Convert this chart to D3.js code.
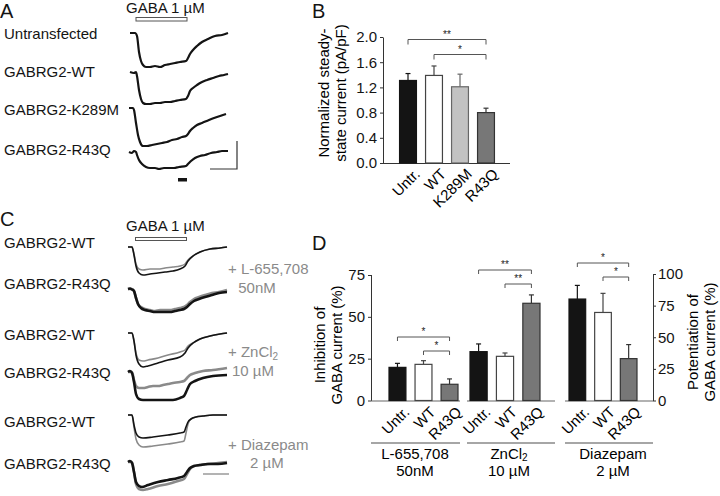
<!DOCTYPE html>
<html><head><meta charset="utf-8">
<script src="https://cdn.jsdelivr.net/npm/d3@7"></script>
<style>body{margin:0;background:#fff}svg{display:block}text{font-family:"Liberation Sans",Arial,sans-serif}</style>
</head><body>
<svg id="fig" width="720" height="496"></svg>
<script>
// ---------- DATA ----------
// Panel A traces: [time (a.u.), current (a.u., negative = inward)]
const aRowLabels = ["Untransfected","GABRG2-WT","GABRG2-K289M","GABRG2-R43Q"];
const aUntransfected = [[1,0],[6,0],[8,-3],[10,-19],[12,-28],[14,-32],[17,-34],[21,-34],[26,-33],[31,-34],[36,-32],[41,-31],[46,-30],[51,-29],[57,-28],[59,-25],[61,-21],[64,-17],[68,-13],[73,-9],[79,-6],[86,-3],[93,-2],[99,0]];
const aWT = [[1,0],[5,-1],[7,0],[8,-4],[10,-18],[12,-27],[14,-31],[17,-32],[21,-32],[26,-31],[31,-31],[36,-30],[41,-30],[46,-29],[51,-28],[57,-27],[59,-24],[61,-19],[64,-16],[68,-13],[73,-10],[78,-8],[84,-6],[90,-4],[95,-3],[99,-2]];
const aK289M = [[0,0],[4,0],[5,-2],[7,-15],[9,-27],[11,-34],[14,-38],[18,-38],[23,-37],[28,-36],[33,-35],[38,-34],[43,-32],[48,-31],[53,-29],[57,-28],[59,-26],[61,-23],[64,-20],[68,-17],[73,-15],[80,-12],[88,-9],[97,-6]];
const aR43Q = [[0,0],[3,-1],[5,1],[7,0],[8,-3],[10,-8],[13,-12],[17,-15],[21,-16],[26,-16],[30,-17],[35,-16],[40,-16],[45,-16],[50,-15],[57,-14],[59,-12],[62,-9],[66,-6],[71,-4],[76,-3],[82,-1],[88,0],[93,1],[99,1]];
const aTraces = [aUntransfected, aWT, aK289M, aR43Q];

// Panel C traces (black = control, gray = + drug)
const cRowLabels = ["GABRG2-WT","GABRG2-R43Q","GABRG2-WT","GABRG2-R43Q","GABRG2-WT","GABRG2-R43Q"];
const cWT_L_black = [[0,0],[4,0],[6,-8],[8,-19],[11,-26],[15,-28],[22,-27],[30,-26],[37,-25],[45,-24],[52,-22],[57,-19],[60,-14],[65,-9],[72,-5],[82,-2],[92,-1],[99,0]];
const cWT_L_gray  = [[0,0],[4,0],[6,-7],[8,-17],[11,-22],[15,-23],[22,-22],[30,-22],[37,-21],[45,-20],[52,-19],[57,-17],[60,-13],[65,-9],[72,-5],[82,-2],[92,-1],[99,0]];
const cR43Q_L_black = [[0,0],[2,0.5],[4,-0.5],[6,-2],[8,-9],[10,-15],[13,-19],[17,-21],[22,-22],[27,-23],[32,-23],[37,-23],[42,-23],[47,-22],[52,-21],[56,-20],[59,-18],[62,-15],[66,-12],[71,-10],[77,-8],[84,-6],[91,-4],[99,-3]];
const cR43Q_L_gray  = [[0,0],[4,0],[6,-2],[8,-9],[10,-15],[13,-18],[17,-20],[22,-21],[27,-22],[32,-21],[37,-21],[42,-21],[47,-20],[52,-19],[56,-18],[59,-16],[62,-13],[66,-10],[71,-8],[77,-6],[84,-4],[91,-3],[99,-1]];
const cWT_Zn_black = [[0,0],[4,0],[6,-8],[8,-22],[11,-31],[15,-34],[20,-33],[30,-30],[40,-27],[52,-24],[57,-20],[60,-15],[65,-10],[72,-6],[82,-3],[92,-1],[99,0]];
const cWT_Zn_gray  = [[0,0],[4,0],[6,-8],[8,-20],[11,-27],[15,-28],[20,-27],[30,-25],[40,-22],[52,-19],[57,-17],[60,-13],[65,-10],[72,-6],[82,-3],[92,-1],[99,0]];
const cR43Q_Zn_black = [[0,0],[2,1],[4,-1],[6,-10],[8,-22],[11,-27],[15,-28],[25,-28],[35,-28],[45,-28],[52,-26],[56,-24],[59,-18],[62,-12],[67,-9],[75,-6],[85,-4],[99,-3]];
const cR43Q_Zn_gray  = [[0,0],[4,0],[6,-8],[8,-14],[11,-16],[15,-16],[20,-15],[25,-14],[30,-14],[35,-13],[40,-12],[45,-11],[52,-10],[56,-9],[59,-6],[62,-3],[67,-1],[75,1],[85,2],[99,4]];
const cWT_Dz_black = [[0,0],[4,0],[6,-10],[8,-18],[11,-22],[15,-23],[25,-22],[40,-20],[52,-18],[56,-17],[58,-12],[60,-7],[63,-4],[68,-2],[75,-1],[85,0],[99,0]];
const cWT_Dz_gray  = [[0,0],[4,0],[6,-12],[8,-24],[11,-30],[15,-32],[25,-31],[40,-29],[52,-27],[56,-26],[58,-18],[60,-9],[63,-4],[68,-2],[75,-1],[85,0],[99,0]];
const cR43Q_Dz_black = [[0,0],[2,1],[4,-1],[6,-10],[8,-20],[11,-24],[14,-25],[20,-23],[30,-20],[40,-18],[50,-16],[56,-14],[59,-10],[62,-6],[66,-4],[72,-3],[80,-2],[90,-2],[99,-1]];
const cR43Q_Dz_gray  = [[0,0],[4,0],[6,-10],[8,-22],[11,-27],[15,-28],[20,-27],[30,-24],[40,-22],[50,-19],[56,-17],[59,-12],[62,-7],[66,-4],[72,-3],[80,-2],[90,-1],[99,0]];
const cTraces = [
  [cWT_L_gray, cWT_L_black],[cR43Q_L_gray, cR43Q_L_black],
  [cWT_Zn_gray, cWT_Zn_black],[cR43Q_Zn_gray, cR43Q_Zn_black],
  [cWT_Dz_gray, cWT_Dz_black],[cR43Q_Dz_gray, cR43Q_Dz_black]];
const gabaWindow = [8, 58];

// Panel B
const bCategories = ["Untr.","WT","K289M","R43Q"];
const bMeans = [1.31, 1.39, 1.21, 0.80];
const bErrors = [0.11, 0.15, 0.20, 0.07];
const bTicks = [0, 0.4, 0.8, 1.2, 1.6, 2.0];

// Panel D
const dCategories = ["Untr.","WT","R43Q"];
const dGroups = ["L-655,708","ZnCl2","Diazepam"];
const dGroupSub = ["50nM","10 µM","2 µM"];
const dMeansL = [19.8, 21.6, 9.7];
const dErrL = [2.4, 2.2, 3.2];
const dMeansZn = [29.2, 26.4, 58.1];
const dErrZn = [4.6, 2.0, 5.0];
const dMeansDz = [80.2, 69.6, 33.1];
const dErrDz = [10.8, 15.1, 11.1];
const dLeftTicks = [0, 25, 50, 75];
const dRightTicks = [0, 25, 50, 75, 100];

// ---------- DRAW ----------
const svg = d3.select("#fig");
const BLACK = "#141414", GRAY = "#8a8a8a";
const fills = {"Untr.":"#141414","WT":"#ffffff","K289M":"#c2c2c2","R43Q":"#777777"};
const strokes = {"Untr.":"#141414","WT":"#444","K289M":"#666","R43Q":"#333"};
const FS = 15;
const FONT = '"Liberation Sans",Arial,sans-serif';

function label(x, y, t, opts={}) {
  const el = svg.append("text").attr("x", x).attr("y", y).text(t)
    .attr("font-size", opts.size || FS).attr("fill", opts.fill || BLACK);
  if (opts.anchor) el.attr("text-anchor", opts.anchor);
  return el;
}
// panel letters
label(0, 18, "A", {size: 20});
label(312, 18, "B", {size: 20});
label(0, 226, "C", {size: 20});
label(312, 250, "D", {size: 20});

// ---- Panel A ----
const xA = d3.scaleLinear().domain([0, 100]).range([129, 229]);
const aBase = [33, 72, 108, 152];
const yAmp = d3.scaleLinear().domain([0, -40]).range([0, 40]);
label(126, 13, "GABA 1 µM", {size: 15});
svg.append("rect").attr("x", xA(gabaWindow[0])-1).attr("y", 17.5).attr("width", xA(gabaWindow[1]) - xA(gabaWindow[0])+1).attr("height", 3.5)
  .attr("fill", "#fff").attr("stroke", "#555").attr("stroke-width", 1);
const aLabY = [39, 77, 115, 155];
aRowLabels.forEach((t, i) => label(4, aLabY[i], t));
aTraces.forEach((tr, i) => {
  const line = d3.line().x(d => xA(d[0])).y(d => aBase[i] + yAmp(d[1])).curve(d3.curveMonotoneX);
  svg.append("path").attr("d", line(tr)).attr("fill", "none").attr("stroke", BLACK).attr("stroke-width", 2.2);
});
// scale bars
svg.append("path").attr("d", "M237,141V169H210").attr("fill", "none").attr("stroke", "#333").attr("stroke-width", 1.2);
svg.append("rect").attr("x", 178).attr("y", 178).attr("width", 9).attr("height", 3.5).attr("fill", BLACK);

// ---- Panel C ----
const xC = d3.scaleLinear().domain([0, 100]).range([128, 228]);
const cBase = [247, 289, 333, 372, 415, 462];
label(126, 231, "GABA 1 µM", {size: 15});
svg.append("rect").attr("x", xC(gabaWindow[0])-0.5).attr("y", 237.5).attr("width", xC(gabaWindow[1]) - xC(gabaWindow[0])+1).attr("height", 3)
  .attr("fill", "#fff").attr("stroke", "#555").attr("stroke-width", 1);
const cLabY = [248, 289, 340, 378, 427, 469];
cRowLabels.forEach((t, i) => label(4, cLabY[i], t));
cTraces.forEach((pair, i) => {
  const line = d3.line().x(d => xC(d[0])).y(d => cBase[i] + yAmp(d[1])).curve(d3.curveMonotoneX);
  const noisy = i % 2 === 1;
  svg.append("path").attr("d", line(pair[0])).attr("fill", "none").attr("stroke", GRAY).attr("stroke-width", noisy ? 2.6 : 1.6);
  svg.append("path").attr("d", line(pair[1])).attr("fill", "none").attr("stroke", BLACK).attr("stroke-width", noisy ? 2.6 : 1.6);
});
svg.append("line").attr("x1", 203).attr("x2", 229).attr("y1", 474).attr("y2", 474).attr("stroke", GRAY).attr("stroke-width", 1.3);
label(228, 274, "+ L-655,708", {fill: GRAY});
label(257, 293, "50nM", {fill: GRAY, anchor: "middle"});
const zn = label(228, 357, "+ ZnCl", {fill: GRAY});
zn.append("tspan").attr("font-size", 10).attr("dy", 3).text("2");
label(232, 376, "10 µM", {fill: GRAY});
label(228, 450, "+ Diazepam", {fill: GRAY});
label(250, 468, "2 µM", {fill: GRAY});

// ---- Panel B ----
const xB = d3.scaleBand().domain(bCategories).range([395, 499]).paddingInner(0.35).paddingOuter(0.175);
const yB = d3.scaleLinear().domain([0, 2]).range([163, 37]);
const gB = svg.append("g");
gB.append("g").attr("transform", "translate(383,0)")
  .call(d3.axisLeft(yB).tickValues(bTicks).tickFormat(d3.format(".1f")).tickSize(3).tickPadding(3))
  .call(g => { g.selectAll("text").attr("font-size", FS).attr("fill", BLACK).attr("font-family", FONT);
               g.selectAll("line,path").attr("stroke", "#333"); g.select(".domain").attr("d", "M0.5,163.5V37.5"); });
gB.append("line").attr("x1", 383).attr("x2", 510).attr("y1", 163.5).attr("y2", 163.5).attr("stroke", "#333");
bCategories.forEach((c, i) => {
  const x = xB(c), w = xB.bandwidth(), cx = x + w/2;
  gB.append("line").attr("x1", cx).attr("x2", cx).attr("y1", yB(bMeans[i])).attr("y2", yB(bMeans[i] + bErrors[i])).attr("stroke", strokes[c]).attr("stroke-width", 1.2);
  gB.append("line").attr("x1", cx-2.5).attr("x2", cx+2.5).attr("y1", yB(bMeans[i] + bErrors[i])).attr("y2", yB(bMeans[i] + bErrors[i])).attr("stroke", strokes[c]).attr("stroke-width", 1.2);
  gB.append("rect").attr("x", x).attr("y", yB(bMeans[i])).attr("width", w).attr("height", yB(0) - yB(bMeans[i]))
    .attr("fill", fills[c]).attr("stroke", strokes[c]).attr("stroke-width", 1.2);
  gB.append("text").attr("transform", `translate(${cx+5},${yB(0)+4}) rotate(-45)`).attr("dy", "0.75em")
    .attr("text-anchor", "end").attr("font-size", FS).text(c);
});
function bracket(g, x1, x2, y, drop, stars) {
  g.append("path").attr("d", `M${x1},${y+drop}V${y}H${x2}V${y+drop}`).attr("fill", "none").attr("stroke", "#555").attr("stroke-width", 1);
  g.append("text").attr("x", (x1+x2)/2).attr("y", y-2).attr("text-anchor", "middle").attr("font-size", 10).attr("fill", "#222").text(stars);
}
const bc = c => xB(c) + xB.bandwidth()/2;
bracket(gB, bc("Untr."), bc("R43Q"), 39.5, 5, "**");
bracket(gB, bc("WT"), bc("R43Q"), 54.5, 5, "*");
const bt = gB.append("text").attr("transform", "translate(329,93) rotate(-90)").attr("text-anchor", "middle").attr("font-size", FS);
bt.append("tspan").attr("x", 0).attr("dy", 0).text("Normalized steady-");
bt.append("tspan").attr("x", 0).attr("dy", 17).text("state current (pA/pF)");

// ---- Panel D ----
const gD = svg.append("g");
const yDL = d3.scaleLinear().domain([0, 75]).range([400.5, 275]);
const yDR = d3.scaleLinear().domain([0, 100]).range([400.5, 274]);
const groupBarRange = [[389, 458], [470, 540], [569, 637]];
const groupLine = [[371, 460], [467, 555], [565, 653]];
const groupLabelX = [415, 509, 613];
const groupMeans = [dMeansL, dMeansZn, dMeansDz];
const groupErr = [dErrL, dErrZn, dErrDz];
const groupScale = [yDL, yDL, yDR];
gD.append("g").attr("transform", "translate(371,0)")
  .call(d3.axisLeft(yDL).tickValues(dLeftTicks).tickSize(3).tickPadding(3))
  .call(g => { g.selectAll("text").attr("font-size", FS).attr("fill", BLACK).attr("font-family", FONT);
               g.selectAll("line").attr("stroke", "#333"); g.select(".domain").attr("stroke", "#333").attr("d", "M0.5,401V275"); });
gD.append("g").attr("transform", "translate(653,0)")
  .call(d3.axisRight(yDR).tickValues(dRightTicks).tickSize(3).tickPadding(2))
  .call(g => { g.selectAll("text").attr("font-size", FS).attr("fill", BLACK).attr("font-family", FONT);
               g.selectAll("line").attr("stroke", "#333"); g.select(".domain").attr("stroke", "#333").attr("d", "M0.5,401V274"); });
dGroups.forEach((grp, gi) => {
  const xs = d3.scaleBand().domain(dCategories).range(groupBarRange[gi]).paddingInner(0.35).paddingOuter(0);
  const ys = groupScale[gi];
  gD.append("line").attr("x1", groupLine[gi][0]).attr("x2", groupLine[gi][1]).attr("y1", 401).attr("y2", 401).attr("stroke", "#666").attr("stroke-width", 1.2);
  dCategories.forEach((c, i) => {
    const x = xs(c), w = xs.bandwidth(), cx = x + w/2;
    const m = groupMeans[gi][i], e = groupErr[gi][i];
    gD.append("line").attr("x1", cx).attr("x2", cx).attr("y1", ys(m)).attr("y2", ys(m + e)).attr("stroke", strokes[c]).attr("stroke-width", 1.2);
    gD.append("line").attr("x1", cx-2.5).attr("x2", cx+2.5).attr("y1", ys(m + e)).attr("y2", ys(m + e)).attr("stroke", strokes[c]).attr("stroke-width", 1.2);
    gD.append("rect").attr("x", x).attr("y", ys(m)).attr("width", w).attr("height", ys(0) - ys(m))
      .attr("fill", fills[c]).attr("stroke", strokes[c]).attr("stroke-width", 1.2);
    gD.append("text").attr("transform", `translate(${cx+5},${405}) rotate(-45)`).attr("dy", "0.75em")
      .attr("text-anchor", "end").attr("font-size", FS).text(c);
  });
  const cc = c => xs(c) + xs.bandwidth()/2;
  gD.append("line").attr("x1", groupLine[gi][0]).attr("x2", groupLine[gi][1]).attr("y1", 443).attr("y2", 443).attr("stroke", "#888").attr("stroke-width", 1.3);
  const mid = groupLabelX[gi];
  const t1 = gD.append("text").attr("x", mid).attr("y", 459).attr("text-anchor", "middle").attr("font-size", FS);
  if (grp === "ZnCl2") { t1.text("ZnCl"); t1.append("tspan").attr("font-size", 10).attr("dy", 2).text("2"); }
  else t1.text(grp);
  gD.append("text").attr("x", mid).attr("y", 476).attr("text-anchor", "middle").attr("font-size", FS).text(dGroupSub[gi]);
  const stars = gi === 1 ? ["**", "**"] : ["*", "*"];
  const yTop = [337, 270, 263][gi];
  bracket(gD, cc("Untr."), cc("R43Q"), yTop, 4, stars[0]);
  bracket(gD, cc("WT"), cc("R43Q"), yTop + 14, 4, stars[1]);
});
const dl = gD.append("text").attr("transform", "translate(325,345) rotate(-90)").attr("text-anchor", "middle").attr("font-size", FS);
dl.append("tspan").attr("x", 0).attr("dy", 0).text("Inhibition of");
dl.append("tspan").attr("x", 0).attr("dy", 17).text("GABA current (%)");
const dr = gD.append("text").attr("transform", "translate(698,342) rotate(-90)").attr("text-anchor", "middle").attr("font-size", FS);
dr.append("tspan").attr("x", 0).attr("dy", 0).text("Potentiation of");
dr.append("tspan").attr("x", 0).attr("dy", 17).text("GABA current (%)");
</script>
</body></html>
